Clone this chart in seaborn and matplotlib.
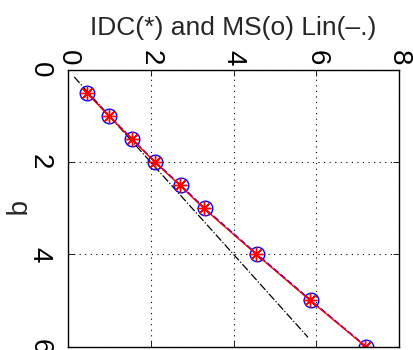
import matplotlib
matplotlib.use("Agg")
import matplotlib.pyplot as plt
import seaborn as sns
import numpy as np

# data
q = [0.5, 1.0, 1.5, 2.0, 2.5, 3.0, 4.0, 5.0, 6.0]
idc = [0.46, 0.99, 1.54, 2.10, 2.70, 3.28, 4.55, 5.85, 7.19]
ms = [0.47, 1.00, 1.55, 2.11, 2.72, 3.30, 4.57, 5.87, 7.20]
lin_q = [0.15, 5.8]
lin_v = [0.15, 5.8]
x_ticks = [0, 2, 4, 6, 8]
y_ticks = [0, 2, 4, 6]

sns.set_theme(style="white")
plt.rcParams['font.family'] = ['Liberation Sans', 'DejaVu Sans']

fig = plt.figure(figsize=(4.13, 3.5), dpi=100)
ax = fig.add_axes([68/413, 1 - 346.5/350, (399-68)/413, (346.5-70)/350])

sns.lineplot(x=lin_v, y=lin_q, ax=ax, color='black', linestyle='-.', linewidth=0.9,
             sort=False, estimator=None)
sns.lineplot(x=ms, y=q, ax=ax, color='blue', linestyle='--', linewidth=1.2,
             marker='o', markersize=10.5, markerfacecolor='none', markeredgecolor='blue',
             markeredgewidth=1.0, sort=False, estimator=None)
sns.lineplot(x=idc, y=q, ax=ax, color='red', linestyle='-', linewidth=1.0,
             marker=(8, 2, 0), markersize=10, markeredgecolor='red', markeredgewidth=1.0,
             sort=False, estimator=None)

ax.set_xlim(0, 8)
ax.set_ylim(6, 0)
ax.set_xticks(x_ticks)
ax.set_yticks(y_ticks)
ax.set_xticklabels([str(t) for t in x_ticks], rotation=-90, fontsize=20)
ax.set_yticklabels([str(t) for t in y_ticks], rotation=-90, fontsize=20, va='center')
ax.xaxis.tick_top()
ax.tick_params(axis='both', which='both', direction='in', length=4, width=0.6,
               top=True, bottom=True, left=True, right=True, colors='black')
ax.tick_params(axis='x', pad=3)
ax.tick_params(axis='y', pad=11)
ax.grid(True, linestyle=(0, (1, 4)), color='black', linewidth=0.8)
for s in ax.spines.values():
    s.set_color('black')
    s.set_linewidth(1.0)
ax.set_xlabel('')
ax.set_ylabel('q', rotation=-90, fontsize=20, labelpad=7, va='center')
fig.text(233/413, 1 - 28/350, 'IDC(*) and MS(o) Lin(\u2013.)', ha='center', va='center',
         fontsize=19)

fig.savefig('out.png', dpi=100)
